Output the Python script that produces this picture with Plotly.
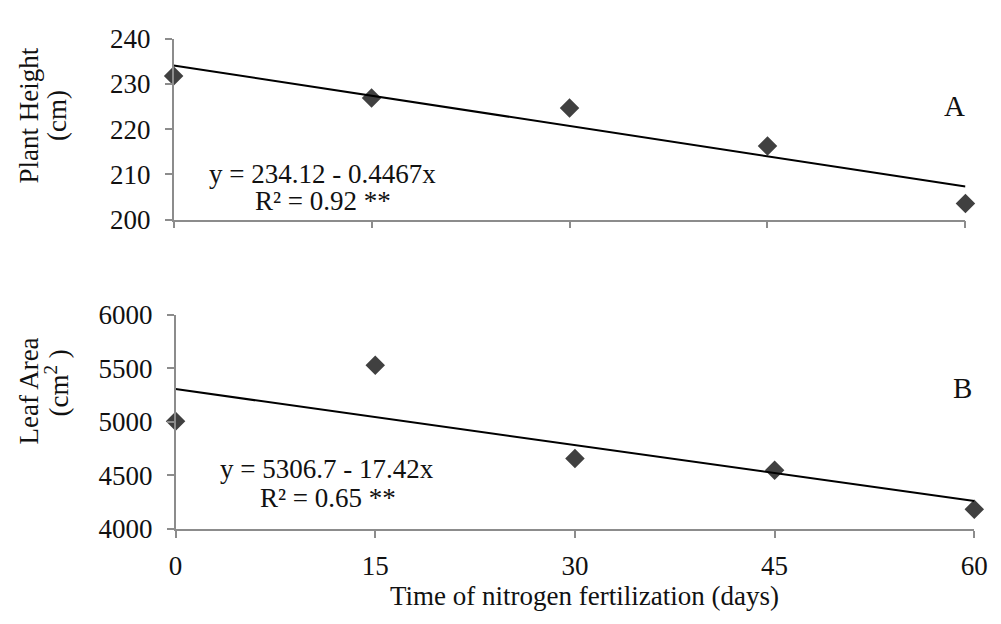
import plotly.graph_objects as go

days = [0, 15, 30, 45, 60]
plant_height = [231.8, 226.9, 224.7, 216.3, 203.6]
leaf_area = [5007, 5529, 4658, 4548, 4184]
height_fit = (234.12, -0.4467)
area_fit = (5306.7, -17.42)
x_ticks = [0, 15, 30, 45, 60]
height_ticks = [200, 210, 220, 230, 240]
area_ticks = [4000, 4500, 5000, 5500, 6000]

W, H = 1001, 624
FONT = "Liberation Serif"
FS = 27
MARK = "#404040"
AXC = "#8c8c8c"
TXT = "#111"

def fx(p):
    return p / W

def fy(p):
    return 1 - p / H

fig = go.Figure()

fig.add_trace(go.Scatter(x=days, y=plant_height, mode="markers",
                         marker=dict(symbol="diamond", size=15, color=MARK),
                         xaxis="x", yaxis="y", showlegend=False, cliponaxis=False))
fig.add_trace(go.Scatter(x=[days[0], days[-1]],
                         y=[height_fit[0] + height_fit[1] * d for d in (days[0], days[-1])],
                         mode="lines", line=dict(color="black", width=2),
                         xaxis="x", yaxis="y", showlegend=False))
fig.add_trace(go.Scatter(x=days, y=leaf_area, mode="markers",
                         marker=dict(symbol="diamond", size=15, color=MARK),
                         xaxis="x2", yaxis="y2", showlegend=False, cliponaxis=False))
fig.add_trace(go.Scatter(x=[days[0], days[-1]],
                         y=[area_fit[0] + area_fit[1] * d for d in (days[0], days[-1])],
                         mode="lines", line=dict(color="black", width=2),
                         xaxis="x2", yaxis="y2", showlegend=False))

common_x = dict(range=[0, 60], tickvals=x_ticks, showgrid=False, zeroline=False,
                showline=True, linecolor=AXC, linewidth=1.5, ticks="outside",
                ticklen=7, tickcolor=AXC, tickwidth=1.5)
common_y = dict(showgrid=False, zeroline=False, showline=True, linecolor=AXC,
                linewidth=1.5, ticks="outside", ticklen=7, tickcolor=AXC, tickwidth=1.5,
                tickfont=dict(family=FONT, size=FS, color=TXT), ticklabelstandoff=9)

fig.update_layout(
    width=W, height=H, margin=dict(l=0, r=0, t=0, b=0),
    paper_bgcolor="white", plot_bgcolor="white",
    font=dict(family=FONT, size=FS, color=TXT),
    xaxis=dict(domain=[fx(170), fx(978)], anchor="y", showticklabels=False, **common_x),
    yaxis=dict(domain=[fy(215), fy(25)], anchor="x", range=[200, 240],
               tickvals=height_ticks, **common_y),
    xaxis2=dict(domain=[fx(172), fx(987)], anchor="y2",
                tickfont=dict(family=FONT, size=FS, color=TXT), ticklabelstandoff=5,
                **common_x),
    yaxis2=dict(domain=[fy(540), fy(315)], anchor="x2", range=[4000, 6000],
                tickvals=area_ticks, **common_y),
)

ann = [
    dict(text="Plant Height", x=fx(22), y=fy(106), textangle=-90),
    dict(text="(cm)", x=fx(51), y=fy(105), textangle=-90),
    dict(text="Leaf Area", x=fx(22), y=fy(395), textangle=-90),
    dict(text="(cm<sup>2</sup> )", x=fx(51), y=fy(386), textangle=-90),
    dict(text="Time of nitrogen fertilization (days)", x=fx(589), y=fy(610)),
    dict(text="y = 234.12 - 0.4467x", x=fx(322), y=fy(167)),
    dict(text="R² = 0.92 **", x=fx(322), y=fy(195)),
    dict(text="y = 5306.7 - 17.42x", x=fx(327), y=fy(477)),
    dict(text="R² = 0.65 **", x=fx(328), y=fy(507)),
    dict(text="A", x=fx(967), y=fy(96), font=dict(family=FONT, size=29, color=TXT)),
    dict(text="B", x=fx(975), y=fy(392), font=dict(family=FONT, size=29, color=TXT)),
]
for a in ann:
    a.setdefault("font", dict(family=FONT, size=FS, color=TXT))
    fig.add_annotation(xref="paper", yref="paper", showarrow=False,
                       xanchor="center", yanchor="middle", **a)

fig.write_html("out.html", config={"displayModeBar": False},
               post_script="document.body.style.margin='0';document.body.style.overflow='hidden';")
